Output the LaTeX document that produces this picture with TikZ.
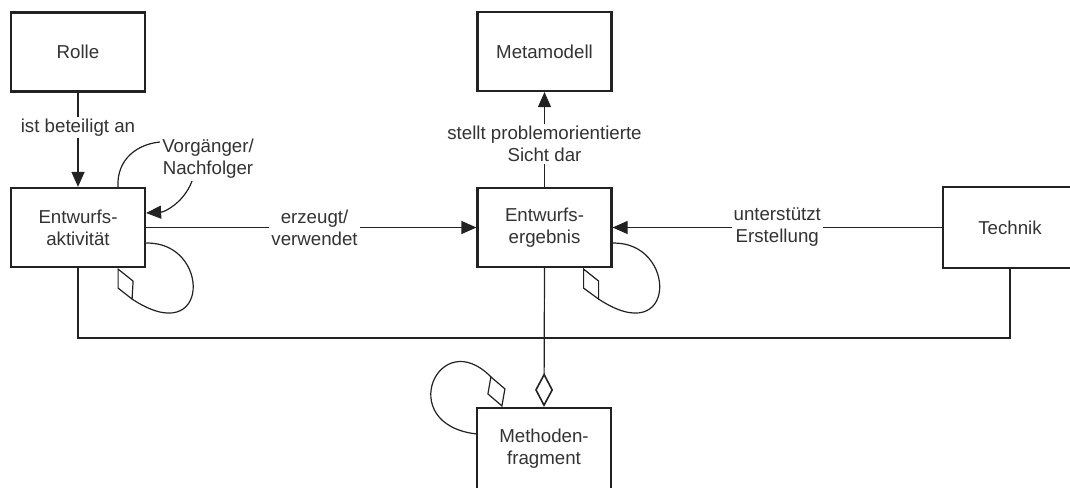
\documentclass[tikz,border=0pt]{standalone}
\usepackage{fontspec}
\setmainfont{Liberation Sans}
\usetikzlibrary{arrows.meta}
\definecolor{ink}{RGB}{34,34,34}
\definecolor{txt}{RGB}{51,51,51}

\begin{document}
\begin{tikzpicture}[x=1pt,y=-1pt,
  entity/.style={draw=ink, line width=2.2pt, minimum width=134pt, minimum height=79pt,
                 inner sep=0pt, align=center, text=txt, font=\fontsize{18.7}{22}\selectfont},
  conn/.style={draw=ink, line width=1.2pt},
  tip/.style={-{Triangle[length=15pt,width=13pt]}},
  lbl/.style={fill=white, inner sep=2pt, align=center, text=txt,
              font=\fontsize{18.7}{22}\selectfont},
  agg/.style={draw=ink, line width=1.2pt, line join=miter},
]
\clip (0,0) rectangle (1070,487);
\fill[white] (0,0) rectangle (1070,487);

% entities
\node[entity] (rolle) at (78,52)    {Rolle};
\node[entity] (akt)   at (78,227.5) {Entwurfs-\\aktivität};
\node[entity] (meta)  at (544.5,51.5) {Metamodell};
\node[entity] (erg)   at (544.5,227.5) {Entwurfs-\\ergebnis};
\node[entity, minimum height=81pt] (tech) at (1010,227.5) {Technik};
\node[entity, minimum height=82pt] (mf)   at (544,449) {Methoden-\\fragment};

% associations
\draw[conn,tip] (rolle.south) -- node[lbl,pos=0.37] {ist beteiligt an} (akt.north);
\draw[conn,tip] (akt.east) -- node[lbl,pos=0.51] {erzeugt/\\verwendet} (erg.west);
\draw[conn,tip] (tech.west) -- node[lbl,pos=0.5] {unterstützt\\Erstellung} (erg.east);
\draw[conn,tip] (erg.north) -- node[lbl,pos=0.454] {stellt problemorientierte\\Sicht dar} (meta.south);

% predecessor / successor loop
\coordinate (vm) at (195,170);
\draw[conn,tip] ([xshift=40pt]akt.north) .. controls (115,130) and (205,130) .. (vm)
      .. controls (190,200) and (165,212) .. ([yshift=14.5pt]akt.east);
\node[lbl] (vn) at (208,159) {Vorgänger/\\Nachfolger};

% shared link to the method fragment
\coordinate (busL) at (78,338);
\coordinate (busR) at (1010,338);
\draw[conn] (akt.south) -- (busL) -- (busR) -- (tech.south);
\draw[conn, -{Diamond[open,length=34pt,width=18pt,line width=1.6pt]}] (erg.south) -- (mf.north);

% reflexive aggregations
\begin{scope}[shift={(akt.south east)}]
  \draw[agg] (-28,1) -- (-13,13) -- (-14,31) -- (-28,20) -- cycle;
  \draw[agg] (0,-25) .. controls (65,-27) and (65,83) .. (-14,31);
\end{scope}
\begin{scope}[shift={(erg.south east)}]
  \draw[agg] (-29,1) -- (-14,13) -- (-14,31) -- (-29,20) -- cycle;
  \draw[agg] (0,-25) .. controls (65,-27) and (65,83) .. (-14,31);
\end{scope}
\begin{scope}[shift={(mf.north west)}]
  \draw[agg] (26,-1) -- (29,-18) -- (15,-30) -- (12,-13) -- cycle;
  \draw[agg] (15,-30) .. controls (-37,-83) and (-82,17) .. (0,27);
\end{scope}
\end{tikzpicture}
\end{document}
